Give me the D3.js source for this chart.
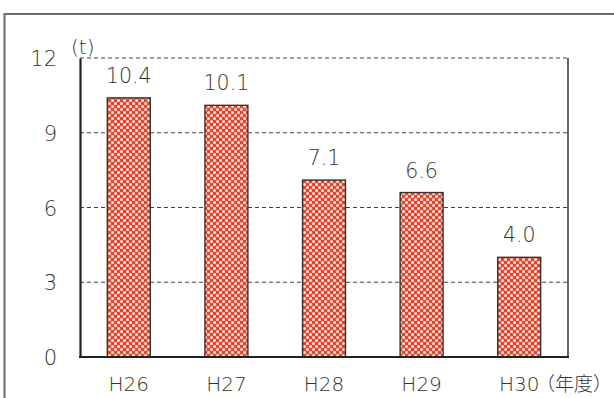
<!DOCTYPE html>
<html>
<head>
<meta charset="utf-8">
<script src="https://cdn.jsdelivr.net/npm/d3@7"></script>
<style>
  html, body { margin: 0; padding: 0; background: #fff; }
  svg { display: block; }
  text { font-family: "DejaVu Sans", "Noto Sans CJK JP", sans-serif; font-weight: 200; fill: #333; }
  text.jp { font-family: "Noto Sans CJK JP", sans-serif; font-weight: 300; }
</style>
</head>
<body>
<svg id="chart" width="614" height="398"></svg>
<script>
// Annual amounts (t) by fiscal year
const categories = ["H26", "H27", "H28", "H29", "H30"];
const values = [10.4, 10.1, 7.1, 6.6, 4.0];
const yTicks = [0, 3, 6, 9, 12];

const svg = d3.select("#chart");
const W = 614, H = 398;
const m = { left: 80, right: 46, top: 58, bottom: 41 };

// outer frame
svg.append("path")
  .attr("d", `M4.5,${H} V14 H${W}`)
  .attr("fill", "none").attr("stroke", "#6b6b6b").attr("stroke-width", 2);

// checker fill for the bars
const defs = svg.append("defs");
const pat = defs.append("pattern")
  .attr("id", "checker").attr("patternUnits", "userSpaceOnUse")
  .attr("width", 6).attr("height", 6);
pat.append("rect").attr("width", 6).attr("height", 6).attr("fill", "#e6452c");
pat.append("rect").attr("x", 0.3).attr("y", 0.3).attr("width", 2.5).attr("height", 2.5).attr("fill", "#fdf3f0");
pat.append("rect").attr("x", 3.3).attr("y", 3.3).attr("width", 2.5).attr("height", 2.5).attr("fill", "#fdf3f0");

const x = d3.scaleBand().domain(categories)
  .range([m.left, W - m.right]).paddingInner(0.56).paddingOuter(0.28);
const y = d3.scaleLinear().domain([0, 12]).range([H - m.bottom, m.top]);

// dashed gridlines
svg.append("g").selectAll("line").data(yTicks.filter(d => d > 0)).join("line")
  .attr("x1", m.left).attr("x2", W - m.right)
  .attr("y1", d => y(d)).attr("y2", d => y(d))
  .attr("stroke", "#444").attr("stroke-width", 1.2)
  .attr("stroke-dasharray", "4,3");

// right edge of plot
svg.append("line")
  .attr("x1", W - m.right).attr("x2", W - m.right)
  .attr("y1", y(12)).attr("y2", y(0))
  .attr("stroke", "#333").attr("stroke-width", 1.5);

// bars
svg.append("g").selectAll("rect").data(values).join("rect")
  .attr("x", (d, i) => x(categories[i]))
  .attr("y", d => y(d))
  .attr("width", x.bandwidth())
  .attr("height", d => y(0) - y(d))
  .attr("fill", "url(#checker)")
  .attr("stroke", "#333").attr("stroke-width", 1.4);

// value labels
svg.append("g").selectAll("text").data(values).join("text")
  .attr("x", (d, i) => x(categories[i]) + x.bandwidth() / 2)
  .attr("y", d => y(d) - 15)
  .attr("text-anchor", "middle")
  .style("font-size", "20.5px")
  .text(d => d.toFixed(1));

// y axis
const yAxis = svg.append("g")
  .attr("transform", `translate(${m.left},0)`)
  .call(d3.axisLeft(y).tickValues(yTicks).tickSize(0).tickPadding(23));
yAxis.select(".domain").attr("stroke", "#222").attr("stroke-width", 2.2);
yAxis.selectAll("text").style("font-size", "21px").attr("font-family", null).attr("dy", "0.36em");

// x axis
const xAxis = svg.append("g")
  .attr("transform", `translate(0,${y(0)})`)
  .call(d3.axisBottom(x).tickSize(0).tickPadding(14));
xAxis.select(".domain").attr("stroke", "#222").attr("stroke-width", 2.2)
  .attr("d", `M${m.left - 1},0H${W - m.right + 1}`);
xAxis.selectAll("text").style("font-size", "20px").attr("font-family", null)
  .attr("dy", null).attr("y", 34);

// unit labels
svg.append("text").attr("x", 71).attr("y", 54).style("font-size", "20px").text("(t)");
svg.append("text").attr("class", "jp").attr("x", 536).attr("y", 391).style("font-size", "19px").text("（年度）");
</script>
</body>
</html>
